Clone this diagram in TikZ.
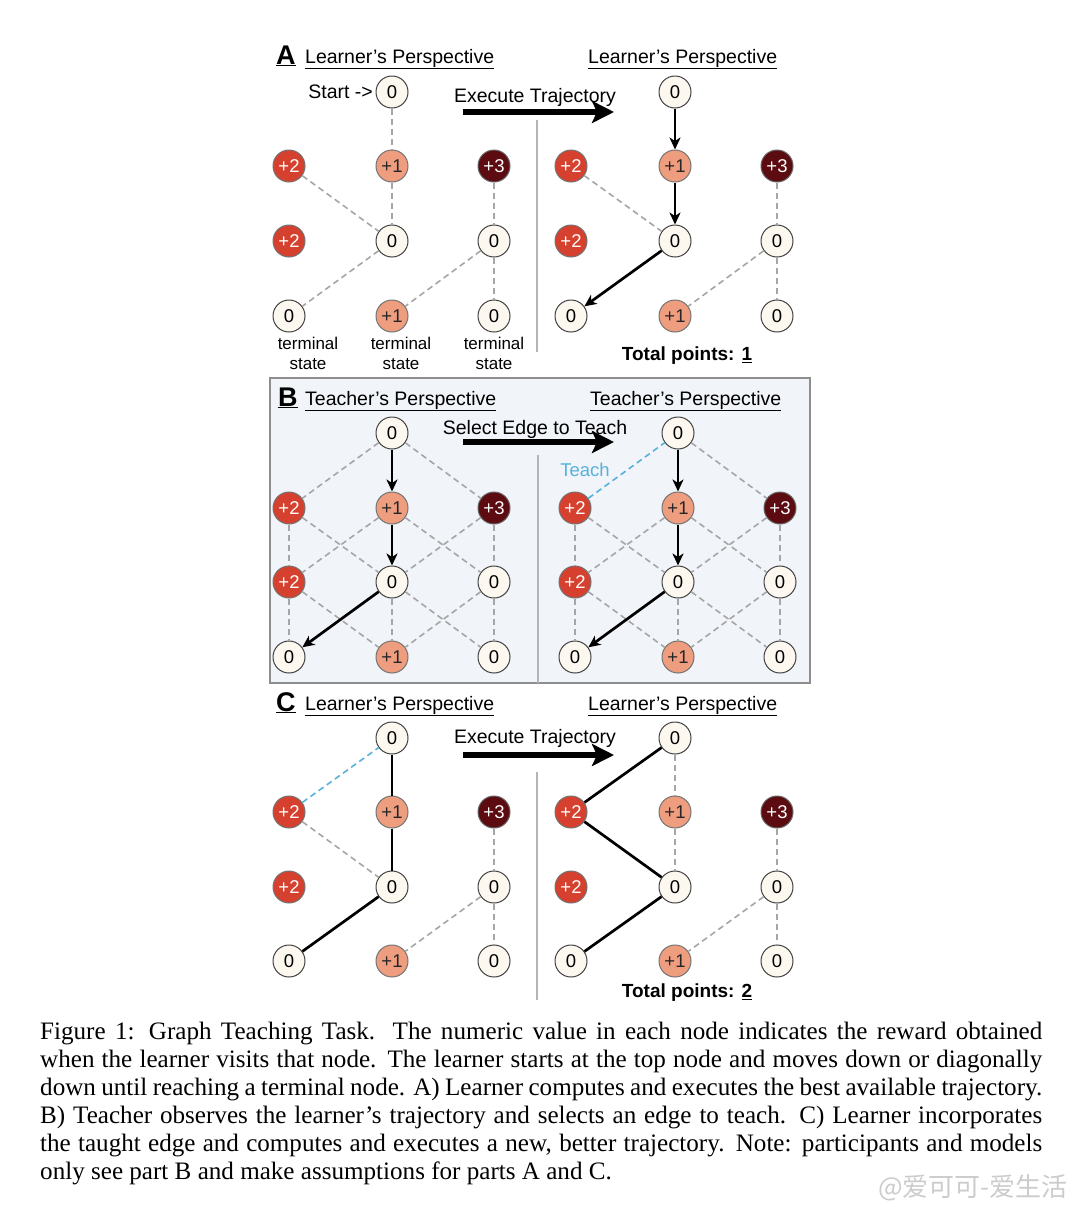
\documentclass[tikz,border=0pt]{standalone}
\usepackage{fontspec}
\setmainfont{Liberation Serif}
\newfontfamily\arial{Liberation Sans}
\newfontfamily\cjkwm{Noto Sans CJK SC}
\usetikzlibrary{arrows.meta}
\definecolor{zerofill}{HTML}{FDF8EF}
\definecolor{onefill}{HTML}{EE9D7F}
\definecolor{twofill}{HTML}{D5412E}
\definecolor{threefill}{HTML}{5C0B10}
\definecolor{dashgray}{HTML}{A6A6A6}
\definecolor{teachblue}{HTML}{56B2DA}
\definecolor{boxfill}{HTML}{F1F4F9}
\definecolor{boxline}{HTML}{8E8E8E}
\definecolor{sepgray}{HTML}{B4B4B4}
\tikzset{
  gnode/.style={circle, minimum size=32pt, inner sep=0pt, line width=1pt,
    font=\arial\fontsize{18.5}{18}\selectfont},
  zn/.style={gnode, fill=zerofill, draw=black!75},
  on/.style={gnode, fill=onefill, draw=black!55, text=black!85},
  tw/.style={gnode, fill=twofill, draw=black!55, text=white},
  th/.style={gnode, fill=threefill, draw=black!60, text=white},
  dashedge/.style={draw=dashgray, line width=1.6pt, dash pattern=on 6pt off 4pt},
  teachdash/.style={draw=teachblue, line width=1.6pt, dash pattern=on 6pt off 4pt},
  trajedge/.style={draw=black, line width=2.7pt, -{Stealth[length=12pt,width=11pt,inset=3.5pt]}},
  solidedge/.style={draw=black, line width=2.7pt},
  bigarrow/.style={draw=black, line width=6.5pt, -{Stealth[length=22pt,width=22pt,inset=5pt]}},
  sepline/.style={draw=sepgray, line width=1.3pt},
  hdr/.style={font=\arial\fontsize{19.5}{20}\selectfont, inner sep=0pt, anchor=base west},
  letterlbl/.style={font=\arial\bfseries\fontsize{27}{27}\selectfont, inner sep=0pt, anchor=base west},
  lbl/.style={font=\arial\fontsize{19.5}{20}\selectfont, inner sep=0pt},
  termlbl/.style={font=\arial\fontsize{17}{20}\selectfont, inner sep=0pt, align=center},
  totallbl/.style={font=\arial\bfseries\fontsize{19}{20}\selectfont, inner sep=0pt},
}
\newcommand\mkgraph[8]{%
  \node[zn] (#1t) at (#3,#5) {0};
  \node[tw] (#1a) at (#2,#6) {+2};
  \node[on] (#1b) at (#3,#6) {+1};
  \node[th] (#1c) at (#4,#6) {+3};
  \node[tw] (#1d) at (#2,#7) {+2};
  \node[zn] (#1e) at (#3,#7) {0};
  \node[zn] (#1f) at (#4,#7) {0};
  \node[zn] (#1g) at (#2,#8) {0};
  \node[on] (#1h) at (#3,#8) {+1};
  \node[zn] (#1i) at (#4,#8) {0};
}
\begin{document}
\begin{tikzpicture}[x=1pt,y=-1pt]
\useasboundingbox[fill=white] (0,0) rectangle (1080,1213);

% ---------------- Panel B box
\draw[fill=boxfill, draw=boxline, line width=1.2pt] (270,378) rectangle (810,683);

% ---------------- Panel A
\node[letterlbl] (Aletter) at (276,64) {\underline{A}};
\node[hdr] (Ahl) at (305,63) {\underline{Learner’s Perspective}};
\node[hdr] (Ahr) at (588,63) {\underline{Learner’s Perspective}};
\mkgraph{AL}{289}{392}{494}{92}{166}{241}{316}
\mkgraph{AR}{571}{675}{777}{92}{166}{241}{316}
\node[lbl, anchor=east] (start) at (373,92) {Start ->};
\node[lbl, anchor=base] (Aexec) at (535,102) {Execute Trajectory};
\coordinate (Aas) at (463,112);
\coordinate (Aae) at (614,112);
\draw[bigarrow] (Aas) -- (Aae);
\coordinate (Ast) at (537,120);
\coordinate (Asb) at (537,352);
\draw[sepline] (Ast) -- (Asb);
\foreach \u/\v in {t/b, a/e, b/e, c/f, e/g, f/h, f/i} \draw[dashedge] (AL\u) -- (AL\v);
\foreach \u/\v in {a/e, c/f, f/h, f/i} \draw[dashedge] (AR\u) -- (AR\v);
\draw[trajedge] (ARt) -- (ARb);
\draw[trajedge] (ARb) -- (ARe);
\draw[trajedge] (ARe) -- (ARg);
\node[termlbl] (tl1) at (308,353) {terminal\\state};
\node[termlbl] (tl2) at (401,353) {terminal\\state};
\node[termlbl] (tl3) at (494,353) {terminal\\state};
\node[totallbl] (Atot) at (687,356) {Total points: \underline{1}};

% ---------------- Panel B
\node[letterlbl] (Bletter) at (278,406) {\underline{B}};
\node[hdr] (Bhl) at (305,405) {\underline{Teacher’s Perspective}};
\node[hdr] (Bhr) at (590,405) {\underline{Teacher’s Perspective}};
\mkgraph{BL}{289}{392}{494}{433}{508}{582}{657}
\mkgraph{BR}{575}{678}{780}{433}{508}{582}{657}
\node[lbl, anchor=base] (Bsel) at (535,434) {Select Edge to Teach};
\coordinate (Bas) at (463,442);
\coordinate (Bae) at (614,442);
\draw[bigarrow] (Bas) -- (Bae);
\coordinate (Bst) at (538,455);
\coordinate (Bsb) at (538,683);
\draw[sepline] (Bst) -- (Bsb);
\foreach \u/\v in {t/a, t/c, a/d, a/e, b/d, b/f, c/e, c/f, d/g, d/h, e/h, e/i, f/h, f/i} \draw[dashedge] (BL\u) -- (BL\v);
\foreach \u/\v in {t/c, a/d, a/e, b/d, b/f, c/e, c/f, d/g, d/h, e/h, e/i, f/h, f/i} \draw[dashedge] (BR\u) -- (BR\v);
\draw[teachdash] (BRa) -- (BRt);
\foreach \p in {BL, BR} {
  \draw[trajedge] (\p t) -- (\p b);
  \draw[trajedge] (\p b) -- (\p e);
  \draw[trajedge] (\p e) -- (\p g);
}
\node[lbl, text=teachblue, font=\arial\fontsize{18.5}{18}\selectfont] (teach) at (585,470) {Teach};

% ---------------- Panel C
\node[letterlbl] (Cletter) at (276,711) {\underline{C}};
\node[hdr] (Chl) at (305,710) {\underline{Learner’s Perspective}};
\node[hdr] (Chr) at (588,710) {\underline{Learner’s Perspective}};
\mkgraph{CL}{289}{392}{494}{738}{812}{887}{961}
\mkgraph{CR}{571}{675}{777}{738}{812}{887}{961}
\node[lbl, anchor=base] (Cexec) at (535,743) {Execute Trajectory};
\coordinate (Cas) at (463,755);
\coordinate (Cae) at (614,755);
\draw[bigarrow] (Cas) -- (Cae);
\coordinate (Cst) at (537,772);
\coordinate (Csb) at (537,1000);
\draw[sepline] (Cst) -- (Csb);
\draw[teachdash] (CLa) -- (CLt);
\foreach \u/\v in {a/e, c/f, f/h, f/i} \draw[dashedge] (CL\u) -- (CL\v);
\draw[solidedge] (CLt) -- (CLb);
\draw[solidedge] (CLb) -- (CLe);
\draw[solidedge] (CLe) -- (CLg);
\foreach \u/\v in {t/b, b/e, c/f, f/h, f/i} \draw[dashedge] (CR\u) -- (CR\v);
\draw[solidedge] (CRt) -- (CRa);
\draw[solidedge] (CRa) -- (CRe);
\draw[solidedge] (CRe) -- (CRg);
\node[totallbl] (Ctot) at (687,993) {Total points: \underline{2}};

% ---------------- Caption
\node[anchor=north west, inner sep=0pt, text width=1002pt, align=justify,
      font=\fontsize{25.1}{28}\selectfont] (caption) at (40,1022) {%
Figure 1: Graph Teaching Task. The numeric value in each node indicates the reward obtained\linebreak
when the learner visits that node. The learner starts at the top node and moves down or diagonally\linebreak
down until reaching a terminal node. A) Learner computes and executes the best available trajectory.\linebreak
B) Teacher observes the learner’s trajectory and selects an edge to teach. C) Learner incorporates\linebreak
the taught edge and computes and executes a new, better trajectory. Note: participants and models\linebreak
only see part B and make assumptions for parts A and C.};

% ---------------- Watermark
\node[anchor=east, inner sep=0pt, text=black!20, font=\cjkwm\fontsize{26}{26}\selectfont] (wm) at (1068,1188) {@爱可可-爱生活};
\end{tikzpicture}
\end{document}
